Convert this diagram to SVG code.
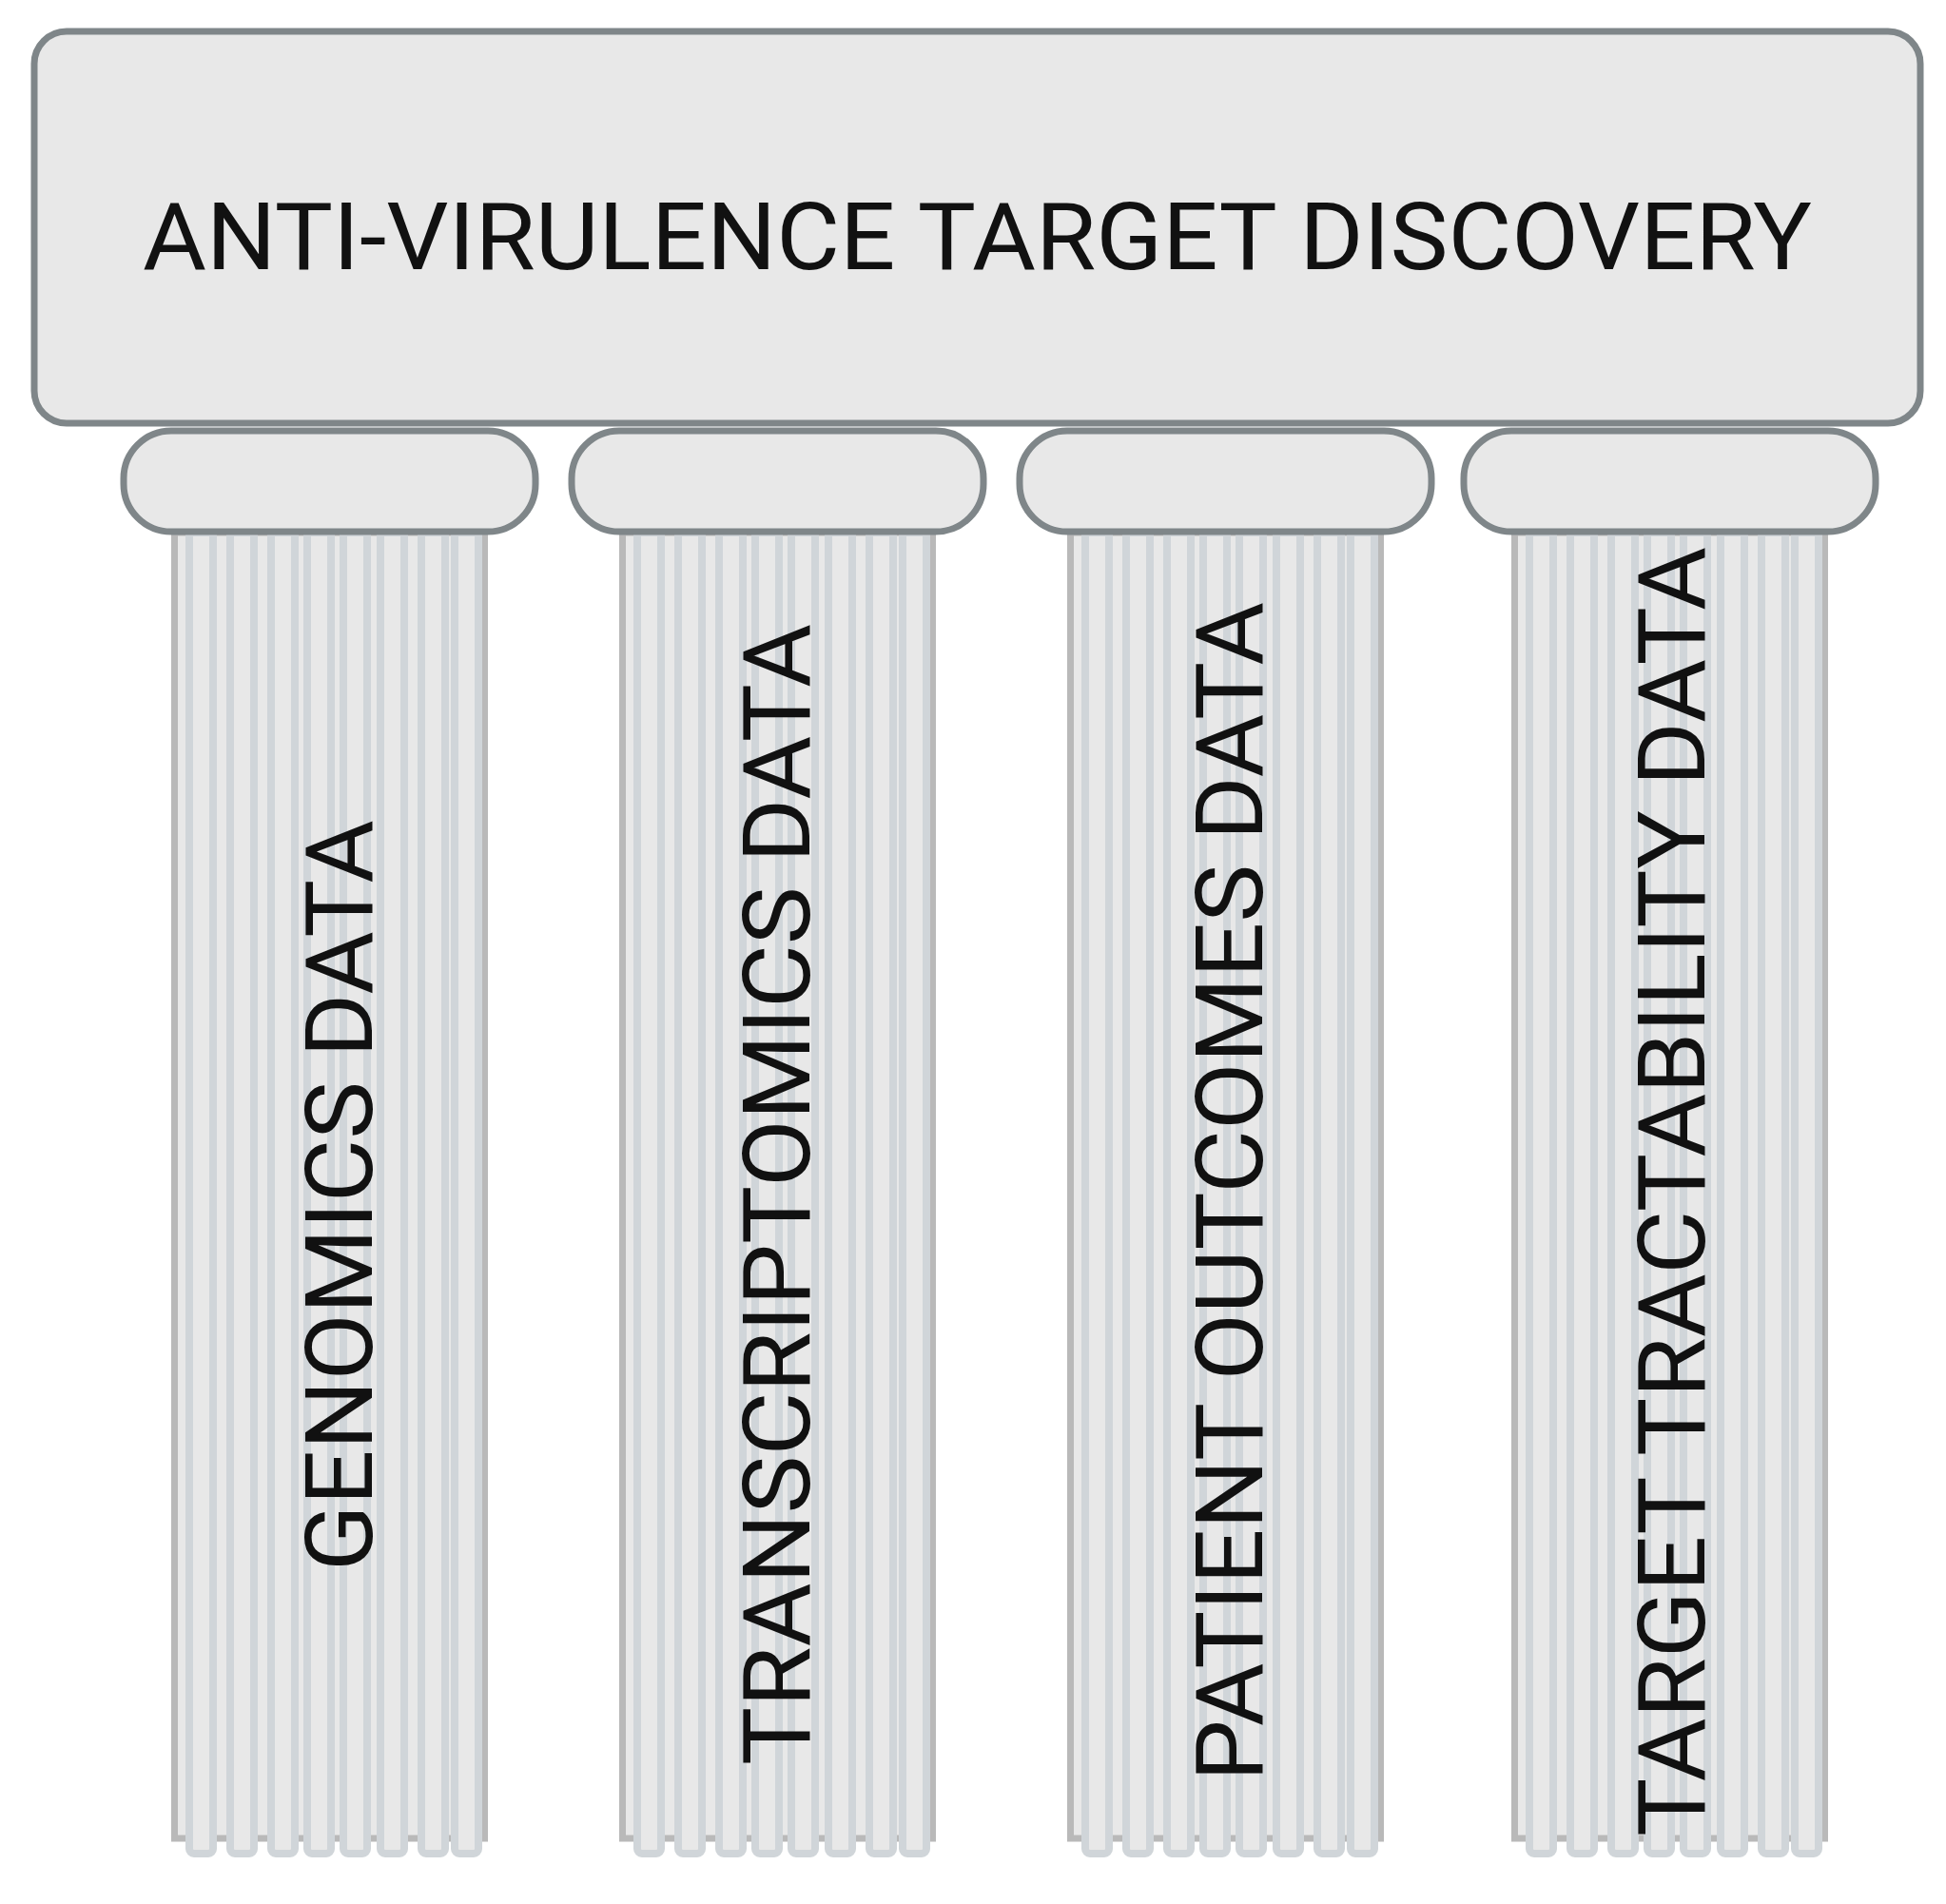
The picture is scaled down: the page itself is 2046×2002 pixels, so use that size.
<svg xmlns="http://www.w3.org/2000/svg" xmlns:xlink="http://www.w3.org/1999/xlink" width="2046" height="2002" viewBox="0 0 2046 2002">
<style>
.box{fill:#e8e8e8;stroke:#7f8689;stroke-width:7}
.shaft{fill:#e8e8e8;stroke:#b9b9b9;stroke-width:7}
.flute{fill:#e8e8e8;stroke:#d0d5d9;stroke-width:8}
.t{font-family:Roboto,"Liberation Sans",sans-serif;font-size:98px;fill:#111}
</style>
<defs>
<g id="column">
<rect class="shaft" x="3.500" y="0" width="326" height="1373" />
<g id="flutes">
<path class="flute" d="M19 0V1384a5 5 0 0 0 5 5H39a5 5 0 0 0 5-5V0Z"/>
<path class="flute" d="M62 0V1384a5 5 0 0 0 5 5H82a5 5 0 0 0 5-5V0Z"/>
<path class="flute" d="M105 0V1384a5 5 0 0 0 5 5H125a5 5 0 0 0 5-5V0Z"/>
<path class="flute" d="M143 0V1384a5 5 0 0 0 5 5H163a5 5 0 0 0 5-5V0Z"/>
<path class="flute" d="M181 0V1384a5 5 0 0 0 5 5H201a5 5 0 0 0 5-5V0Z"/>
<path class="flute" d="M220 0V1384a5 5 0 0 0 5 5H240a5 5 0 0 0 5-5V0Z"/>
<path class="flute" d="M263 0V1384a5 5 0 0 0 5 5H283a5 5 0 0 0 5-5V0Z"/>
<path class="flute" d="M298 0V1384a5 5 0 0 0 5 5H318a5 5 0 0 0 5-5V0Z"/>
</g>
</g>
</defs>
<rect width="2046" height="2002" fill="#fff"/>
<g id="connectors"></g>
<g id="pillar-1"><use xlink:href="#column" href="#column" x="180" y="560"/><rect class="box" x="130" y="453" width="433" height="106" rx="50"/><text class="t" transform="translate(391 1652) rotate(-90)" textLength="790" lengthAdjust="spacingAndGlyphs">GENOMICS DATA</text></g>
<g id="pillar-2"><use xlink:href="#column" href="#column" x="651" y="560"/><rect class="box" x="601" y="453" width="433" height="106" rx="50"/><text class="t" transform="translate(851 1856) rotate(-90)" textLength="1200" lengthAdjust="spacingAndGlyphs">TRANSCRIPTOMICS DATA</text></g>
<g id="pillar-3"><use xlink:href="#column" href="#column" x="1122" y="560"/><rect class="box" x="1072" y="453" width="433" height="106" rx="50"/><text class="t" transform="translate(1327 1873) rotate(-90)" textLength="1240" lengthAdjust="spacingAndGlyphs">PATIENT OUTCOMES DATA</text></g>
<g id="pillar-4"><use xlink:href="#column" href="#column" x="1589" y="560"/><rect class="box" x="1539" y="453" width="433" height="106" rx="50"/><text class="t" transform="translate(1792 1931) rotate(-90)" textLength="1356" lengthAdjust="spacingAndGlyphs">TARGET TRACTABILITY DATA</text></g>
<g id="top"><rect class="box" x="36" y="33" width="1983" height="412" rx="34"/><text class="t" x="150" y="283" textLength="1755" lengthAdjust="spacingAndGlyphs">ANTI-VIRULENCE TARGET DISCOVERY</text></g>
</svg>
